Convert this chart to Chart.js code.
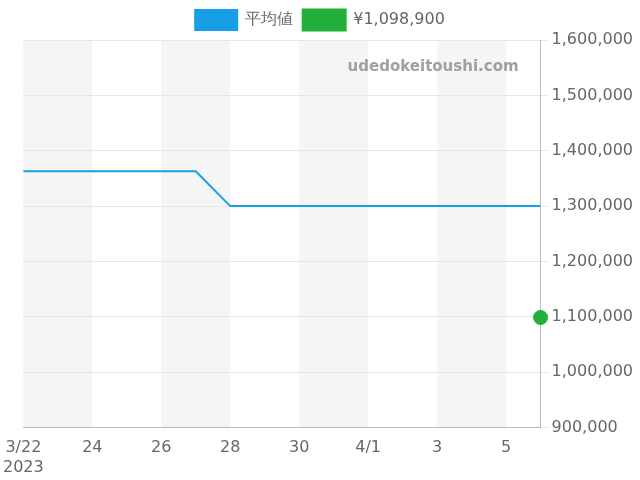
<!DOCTYPE html>
<html>
<head>
<meta charset="utf-8">
<script src="https://cdn.jsdelivr.net/npm/chart.js@4"></script>
<style>
  html, body { margin: 0; padding: 0; background: #fff; }
  #wrap { width: 640px; height: 480px; }
</style>
</head>
<body>
<div id="wrap"><canvas id="chart"></canvas></div>
<script>
// days from 3/22 to 4/6 (2023)
const dayLabels = ["3/22", "23", "24", "25", "26", "27", "28", "29", "30", "31",
                   "4/1", "2", "3", "4", "5", "6"]
const averageValues = [1363000, 1363000, 1363000, 1363000, 1363000, 1363000,
                       1300000, 1300000, 1300000, 1300000, 1300000, 1300000,
                       1300000, 1300000, 1300000, 1300000]
const currentValues = [null, null, null, null, null, null, null, null, null, null,
                       null, null, null, null, null, 1098900]
const seriesNames = ["平均値", "¥1,098,900"]

/* alternating shaded bands + watermark */
const bandsPlugin = {
    id: "bands",
    beforeDraw: (chart) => {
        const { ctx, chartArea, scales } = chart
        ctx.save()
        ctx.fillStyle = "#f5f5f5"
        for (let i = 0; i < dayLabels.length - 1; i += 4) {
            const x0 = scales.x.getPixelForValue(i)
            const x1 = scales.x.getPixelForValue(Math.min(i + 2, dayLabels.length - 1))
            ctx.fillRect(x0, chartArea.top, x1 - x0, chartArea.bottom - chartArea.top)
        }
        ctx.restore()
    },
    afterDraw: (chart) => {
        const { ctx, chartArea } = chart
        ctx.save()
        ctx.font = "bold 15px 'DejaVu Sans'"
        ctx.fillStyle = "#a0a0a0"
        ctx.textAlign = "right"
        ctx.textBaseline = "middle"
        ctx.fillText("udedokeitoushi.com", chartArea.right - 22, chartArea.top + 27)
        ctx.restore()
    }
}

new Chart(document.querySelector("#chart"), {
    type: "line",
    data: {
        labels: dayLabels,
        datasets: [{
            label: seriesNames[0],
            data: averageValues,
            borderColor: "#169fe6",
            backgroundColor: "#169fe6",
            borderWidth: 2,
            pointRadius: 0,
            tension: 0
        }, {
            label: seriesNames[1],
            data: currentValues,
            borderColor: "#22b03a",
            backgroundColor: "#22b03a",
            pointRadius: 7,
            showLine: false
        }]
    },
    options: {
        responsive: true,
        maintainAspectRatio: false,
        animation: false,
        layout: { padding: { left: 4, right: 4 } },
        plugins: {
            legend: {
                labels: {
                    boxWidth: 42, boxHeight: 20,
                    color: "#666",
                    font: { size: 16, family: "'DejaVu Sans'" }
                }
            },
            tooltip: { enabled: false }
        },
        scales: {
            x: {
                border: { color: "#bbb" },
                grid: { display: false },
                ticks: {
                    color: "#666",
                    maxRotation: 0,
                    autoSkip: false,
                    font: { size: 16, family: "'DejaVu Sans'" },
                    callback: (v, i) => {
                        if (i % 2) return null
                        return i === 0 ? [dayLabels[i], "2023"] : dayLabels[i]
                    }
                }
            },
            y: {
                position: "right",
                min: 900000,
                max: 1600000,
                border: { color: "#bbb" },
                grid: { color: "#e6e6e6" },
                ticks: {
                    stepSize: 100000,
                    color: "#666",
                    font: { size: 16, family: "'DejaVu Sans'" },
                    callback: v => v.toLocaleString("en-US")
                }
            }
        }
    },
    plugins: [bandsPlugin]
})
</script>
</body>
</html>
